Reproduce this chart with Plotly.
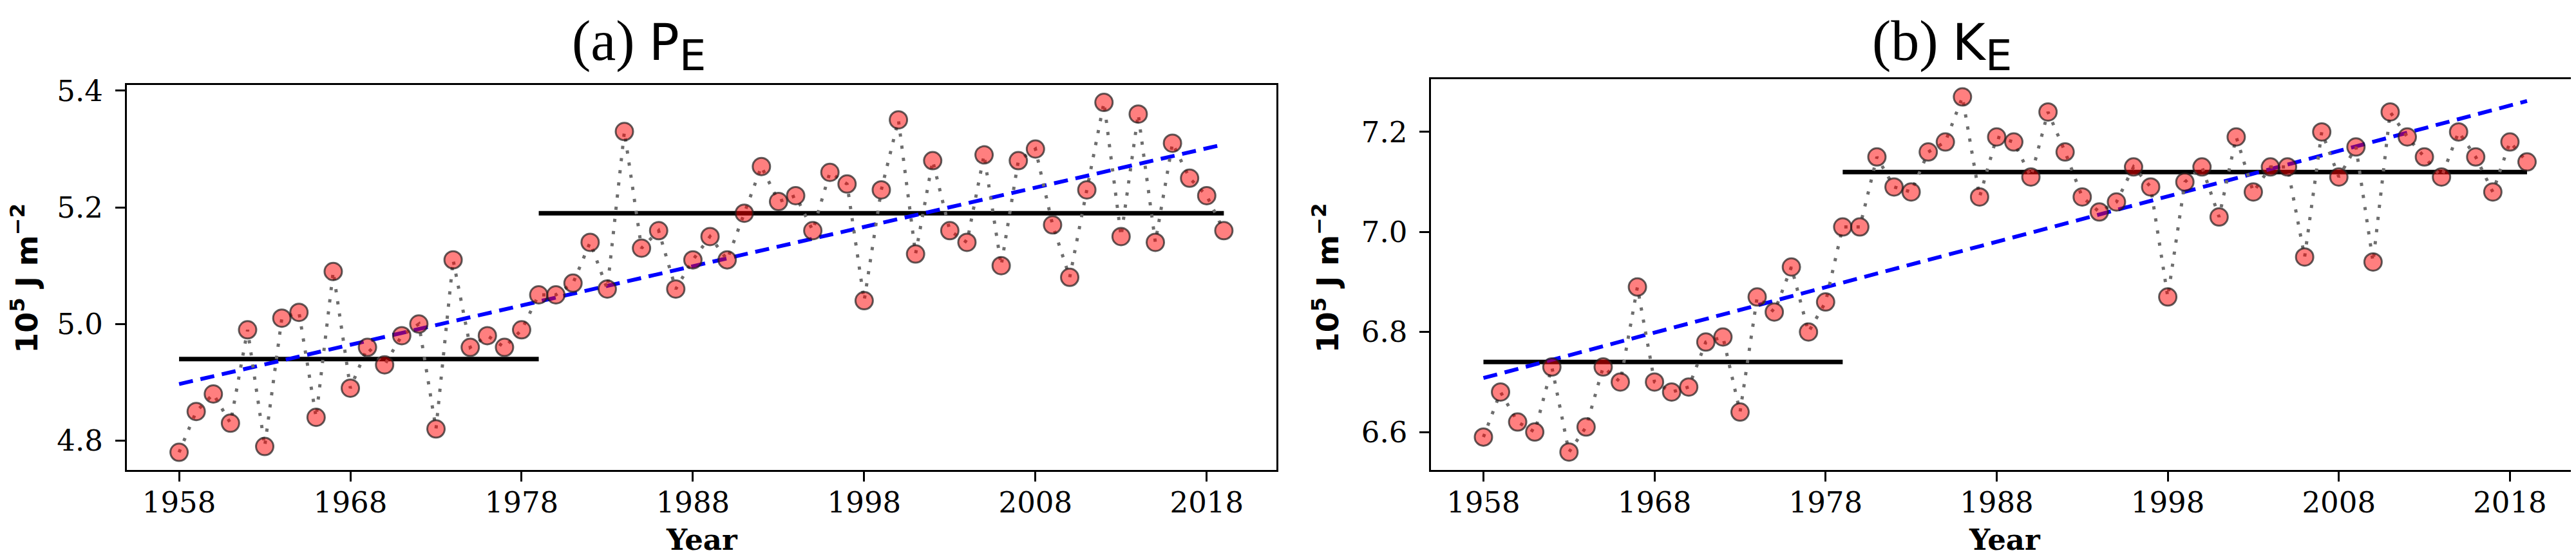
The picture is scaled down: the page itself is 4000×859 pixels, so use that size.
import plotly.graph_objects as go
from plotly.subplots import make_subplots

# Data
years = list(range(1958, 2020))

pe_values = [4.78, 4.85, 4.88, 4.83, 4.99, 4.79, 5.01, 5.02, 4.84, 5.09,
             4.89, 4.96, 4.93, 4.98, 5.00, 4.82, 5.11, 4.96, 4.98, 4.96,
             4.99, 5.05, 5.05, 5.07, 5.14, 5.06, 5.33, 5.13, 5.16, 5.06,
             5.11, 5.15, 5.11, 5.19, 5.27, 5.21, 5.22, 5.16, 5.26, 5.24,
             5.04, 5.23, 5.35, 5.12, 5.28, 5.16, 5.14, 5.29, 5.10, 5.28,
             5.30, 5.17, 5.08, 5.23, 5.38, 5.15, 5.36, 5.14, 5.31, 5.25,
             5.22, 5.16]

ke_values = [6.59, 6.68, 6.62, 6.60, 6.73, 6.56, 6.61, 6.73, 6.70, 6.89,
             6.70, 6.68, 6.69, 6.78, 6.79, 6.64, 6.87, 6.84, 6.93, 6.80,
             6.86, 7.01, 7.01, 7.15, 7.09, 7.08, 7.16, 7.18, 7.27, 7.07,
             7.19, 7.18, 7.11, 7.24, 7.16, 7.07, 7.04, 7.06, 7.13, 7.09,
             6.87, 7.10, 7.13, 7.03, 7.19, 7.08, 7.13, 7.13, 6.95, 7.20,
             7.11, 7.17, 6.94, 7.24, 7.19, 7.15, 7.11, 7.20, 7.15, 7.08,
             7.18, 7.14]

# period means (before / after 1979) and linear trend end points
period1_years = [1958, 1979]
period2_years = [1979, 2019]
pe_means = [4.94, 5.19]
ke_means = [6.74, 7.12]
trend_years = [1958, 2019]
pe_trend = [4.897, 5.308]
ke_trend = [6.708, 7.262]

fig = make_subplots(rows=1, cols=2)

panels = [(1, pe_values, pe_means, pe_trend), (2, ke_values, ke_means, ke_trend)]
for col, vals, means, trend in panels:
    fig.add_trace(go.Scatter(x=period1_years, y=[means[0], means[0]], mode="lines",
                             line=dict(color="black", width=7)), row=1, col=col)
    fig.add_trace(go.Scatter(x=period2_years, y=[means[1], means[1]], mode="lines",
                             line=dict(color="black", width=7)), row=1, col=col)
    fig.add_trace(go.Scatter(x=trend_years, y=trend, mode="lines",
                             line=dict(color="blue", width=6, dash="22px,12px")),
                  row=1, col=col)
    fig.add_trace(go.Scatter(x=years, y=vals, mode="lines+markers",
                             line=dict(color="#6e6e6e", width=5, dash="5px,14px"),
                             marker=dict(size=27, color="rgba(255,0,0,0.5)",
                                         line=dict(color="rgba(30,30,30,0.7)", width=3))),
                  row=1, col=col)

axis_style = dict(showline=True, linewidth=3, linecolor="black", mirror=True,
                  ticks="outside", ticklen=15, tickwidth=3, tickcolor="black",
                  showgrid=False, zeroline=False,
                  tickfont=dict(family="DejaVu Serif", size=45, color="black"))

x_ticks = [1958, 1968, 1978, 1988, 1998, 2008, 2018]
fig.update_xaxes(range=[1954.95, 2022.05], tickvals=x_ticks, ticklabelstandoff=-6, **axis_style)
fig.update_yaxes(ticklabelstandoff=10, **axis_style)

fig.update_layout(
    width=4000, height=859,
    margin=dict(l=0, r=0, t=0, b=0),
    showlegend=False,
    plot_bgcolor="white", paper_bgcolor="white",
    xaxis=dict(domain=[189 / 4000, 1974 / 4000]),
    xaxis2=dict(domain=[2215 / 4000, 3998 / 4000]),
    yaxis=dict(domain=[140 / 859, 750 / 859], range=[4.75, 5.41],
               tickvals=[4.8, 5.0, 5.2, 5.4], ticktext=["4.8", "5.0", "5.2", "5.4"]),
    yaxis2=dict(domain=[140 / 859, 759 / 859], range=[6.5245, 7.3055],
                tickvals=[6.6, 6.8, 7.0, 7.2], ticktext=["6.6", "6.8", "7.0", "7.2"]),
)

titles = [("(a) ", "P", 984), ("(b) ", "K", 3008)]
for label, sym, xc in titles:
    fig.add_annotation(
        xref="paper", yref="paper", x=xc / 4000, y=1 - 46 / 859,
        xanchor="center", yanchor="middle", showarrow=False,
        text=(label + "<span style='font-family:DejaVu Sans;font-size:78px'>" + sym
              + "<sub><span style='font-size:66px'>E</span></sub></span>"),
        font=dict(family="Liberation Serif", size=88, color="black"))

for xc in [30, 2051]:
    fig.add_annotation(
        xref="paper", yref="paper", x=xc / 4000, y=1 - 415 / 859,
        xanchor="center", yanchor="middle", showarrow=False, textangle=-90,
        text="<b>10<sup>5</sup> J m<sup>\u22122</sup></b>",
        font=dict(family="DejaVu Sans", size=46, color="black"))

for xc in [1082, 3106]:
    fig.add_annotation(
        xref="paper", yref="paper", x=xc / 4000, y=0,
        xanchor="center", yanchor="bottom", showarrow=False,
        text="<b>Year</b>",
        font=dict(family="DejaVu Serif", size=45, color="black"))

fig.write_html("out.html")
